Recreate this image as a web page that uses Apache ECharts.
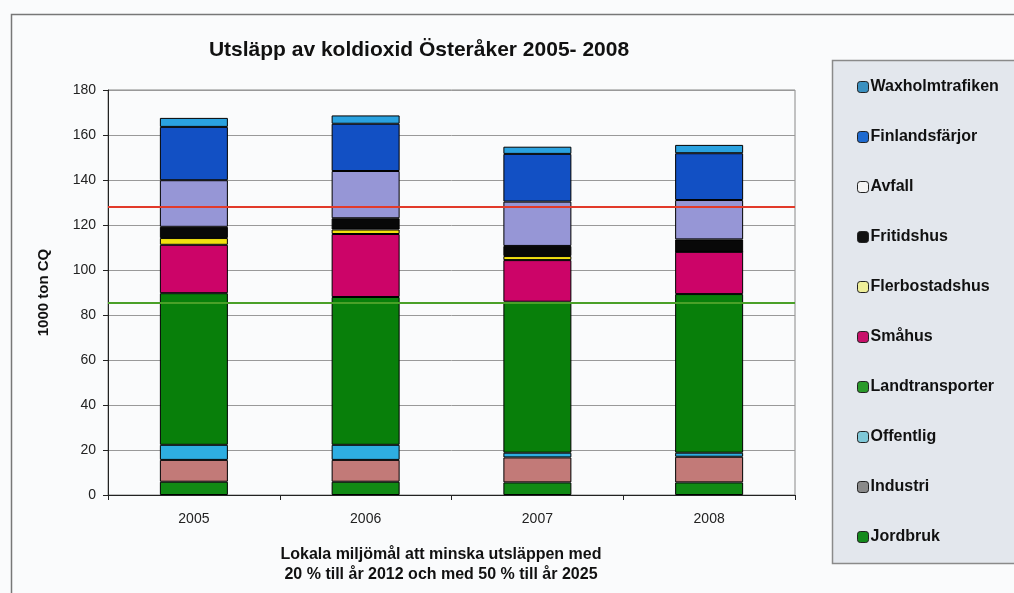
<!DOCTYPE html>
<html>
<head>
<meta charset="utf-8">
<script src="https://cdn.jsdelivr.net/npm/echarts@6/dist/echarts.min.js"></script>
<style>
  html, body { margin: 0; padding: 0; background: #fafbfc; }
  #main { width: 1014px; height: 593px; }
</style>
</head>
<body>
<div id="main"></div>
<script>
// data (1000 ton)
const years = ['2005', '2006', '2007', '2008']
const jordbruk = [5.9, 5.9, 5.6, 5.6]
const industri = [9.7, 9.7, 11.1, 11.4]
const offentlig = [6.7, 6.7, 2.1, 1.8]
const landtransporter = [67.4, 65.7, 67.1, 70.5]
const smahus = [21.5, 28.0, 18.5, 18.8]
const flerbostadshus = [3.0, 2.0, 1.8, 0]
const fritidshus = [5.0, 5.0, 4.5, 5.5]
const avfall = [20.7, 21.0, 19.7, 17.5]
const finlandsfarjor = [23.7, 21.0, 21.2, 20.8]
const waxholmtrafiken = [4.0, 3.7, 3.2, 3.7]
const goal2012 = 128
const goal2025 = 85.5
const yTicks = [0, 20, 40, 60, 80, 100, 120, 140, 160, 180]

const font = 'Liberation Sans, Arial, sans-serif'

// stack order bottom -> top
const stack = [
  ['Jordbruk', jordbruk, '#118a14', '#148a1c'],
  ['Industri', industri, '#c27a78', '#8a8a8a'],
  ['Offentlig', offentlig, '#2eaee2', '#7fc8d8'],
  ['Landtransporter', landtransporter, '#087f0a', '#2a9a2a'],
  ['Småhus', smahus, '#cc0468', '#c8106a'],
  ['Flerbostadshus', flerbostadshus, '#f2e010', '#eeee99'],
  ['Fritidshus', fritidshus, '#080808', '#111111'],
  ['Avfall', avfall, '#9696d6', '#f4f4f4'],
  ['Finlandsfärjor', finlandsfarjor, '#1250c4', '#1e6ad0'],
  ['Waxholmtrafiken', waxholmtrafiken, '#2aa2e0', '#3a90c0']
]

const series = stack.map(([name, values, color], i) => {
  const s = {
    name: name,
    type: 'bar',
    stack: 'all',
    barWidth: 68,
    data: values,
    itemStyle: { color: color, borderColor: '#000', borderWidth: 1 }
  }
  if (i === 0) {
    s.markLine = {
      silent: true,
      symbol: 'none',
      label: { show: false },
      data: [
        { yAxis: goal2012, lineStyle: { color: '#e23a2a', width: 2, type: 'solid' } },
        { yAxis: goal2025, lineStyle: { color: '#4aa028', width: 2, type: 'solid' } }
      ]
    }
  }
  return s
})

const legendData = stack.slice().reverse().map(([name, , , legendColor]) => ({
  name: name,
  itemStyle: { color: legendColor, borderColor: '#222', borderWidth: 1 }
}))

const option = {
  backgroundColor: '#fafbfc',
  animation: false,
  title: [
    {
      text: 'Utsläpp av koldioxid Österåker 2005- 2008',
      left: 414,
      top: 35,
      textAlign: 'center',
      textStyle: { fontFamily: font, fontSize: 21, fontWeight: 'bold', color: '#111' }
    },
    {
      text: 'Lokala miljömål att minska utsläppen med\n20 % till år 2012 och med 50 % till år 2025',
      left: 436,
      top: 540,
      textAlign: 'center',
      textStyle: { fontFamily: font, fontSize: 16, fontWeight: 'bold', color: '#111', lineHeight: 20 }
    }
  ],
  graphic: [
    {
      type: 'rect', z: -1,
      shape: { x: 11.5, y: 14.5, width: 1020, height: 600 },
      style: { fill: 'none', stroke: '#777', lineWidth: 1.5 }
    },
    {
      type: 'rect', z: -1,
      shape: { x: 832.5, y: 60.5, width: 200, height: 503 },
      style: { fill: '#e3e7ed', stroke: '#8a8a8a', lineWidth: 1.5 }
    }
  ],
  legend: {
    orient: 'vertical',
    left: 852,
    top: 74,
    itemGap: 34,
    itemWidth: 11,
    itemHeight: 11,
    itemStyle: { borderColor: '#222', borderWidth: 1 },
    textStyle: { fontFamily: font, fontSize: 16, fontWeight: 'bold', color: '#111', padding: [0, 0, 0, -3] },
    data: legendData
  },
  grid: {
    left: 108,
    right: 219,
    top: 90,
    bottom: 98,
    show: true,
    borderColor: '#888',
    borderWidth: 1
  },
  xAxis: {
    type: 'category',
    data: years,
    axisLine: { lineStyle: { color: '#222', width: 1 } },
    axisTick: { show: true, interval: 0, length: 5, lineStyle: { color: '#222' } },
    axisLabel: { fontFamily: font, fontSize: 14, color: '#222', margin: 17 }
  },
  yAxis: {
    type: 'value',
    min: yTicks[0],
    max: yTicks[yTicks.length - 1],
    interval: yTicks[1] - yTicks[0],
    name: '1000 ton CQ',
    nameLocation: 'middle',
    nameGap: 57,
    nameTextStyle: { fontFamily: font, fontSize: 15, fontWeight: 'bold', color: '#111' },
    axisLine: { show: true, lineStyle: { color: '#222', width: 1 } },
    axisTick: { show: true, length: 5, lineStyle: { color: '#222' } },
    axisLabel: { fontFamily: font, fontSize: 14, color: '#222', margin: 12 },
    splitLine: { show: true, lineStyle: { color: '#999', width: 1 } }
  },
  series: series
}

const myChart = echarts.init(document.getElementById('main'))
myChart.setOption(option)
</script>
</body>
</html>
